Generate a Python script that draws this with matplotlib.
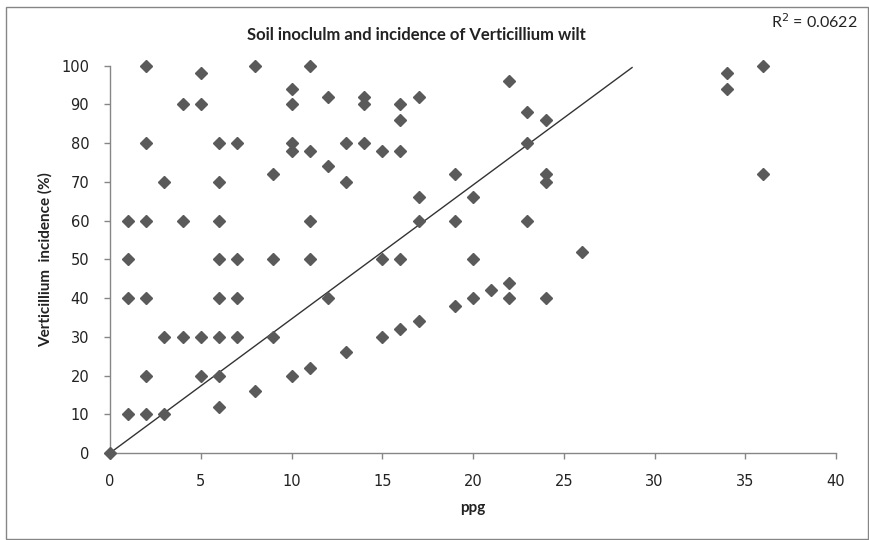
import numpy as np
import matplotlib
matplotlib.use("Agg")
import matplotlib.pyplot as plt
from matplotlib.patches import Rectangle

# ppg values and Verticillium incidence (%)
ppg = [0,
       1, 1, 1, 1,
       2, 2, 2, 2, 2, 2,
       3, 3, 3,
       4, 4, 4,
       5, 5, 5, 5,
       6, 6, 6, 6, 6, 6, 6, 6,
       7, 7, 7, 7,
       8, 8,
       9, 9, 9,
       10, 10, 10, 10, 10,
       11, 11, 11, 11, 11,
       12, 12, 12,
       13, 13, 13,
       14, 14, 14,
       15, 15, 15,
       16, 16, 16, 16, 16,
       17, 17, 17, 17,
       19, 19, 19,
       20, 20, 20,
       21,
       22, 22, 22,
       23, 23, 23,
       24, 24, 24, 24,
       26,
       34, 34,
       36, 36]
incidence = [0,
             60, 50, 40, 10,
             100, 80, 60, 40, 20, 10,
             70, 30, 10,
             90, 60, 30,
             98, 90, 30, 20,
             80, 70, 60, 50, 40, 30, 20, 12,
             80, 50, 40, 30,
             100, 16,
             72, 50, 30,
             94, 90, 80, 78, 20,
             100, 78, 60, 50, 22,
             92, 74, 40,
             80, 70, 26,
             92, 90, 80,
             78, 50, 30,
             90, 86, 78, 50, 32,
             92, 66, 60, 34,
             72, 60, 38,
             66, 50, 40,
             42,
             96, 44, 40,
             88, 80, 60,
             86, 72, 70, 40,
             52,
             98, 94,
             100, 72]

trend_slope = 3.46   # trendline through origin, as drawn
r_squared = 0.0622

x_ticks = [0, 5, 10, 15, 20, 25, 30, 35, 40]
y_ticks = [0, 10, 20, 30, 40, 50, 60, 70, 80, 90, 100]

W, H = 870, 540
fig = plt.figure(figsize=(W / 100, H / 100), dpi=100)
ax = fig.add_axes([110 / W, 1 - 453 / H, (836 - 110) / W, (453 - 65.7) / H])

grey = "#868686"
label_font = "Lato"

# trendline, cut off where it leaves the plot area
xt = np.linspace(0, max(ppg), 200)
yt = trend_slope * xt
keep = yt <= 100
ax.plot(xt[keep], yt[keep], color="#333333", lw=1.0, zorder=2)

ax.plot(ppg, incidence, linestyle="none", marker="D", ms=6.2,
        color="#5a5a5a", mec="#5a5a5a", clip_on=False, zorder=3)

ax.set_xlim(0, 40)
ax.set_ylim(0, 100)
ax.set_xticks(x_ticks)
ax.set_yticks(y_ticks)

for side in ("top", "right"):
    ax.spines[side].set_visible(False)
for side in ("left", "bottom"):
    ax.spines[side].set_color(grey)
    ax.spines[side].set_linewidth(1.0)

ax.tick_params(axis="both", direction="out", length=4, width=1, color=grey,
               labelsize=10.5, labelcolor="#222222")
ax.tick_params(axis="y", pad=11)
ax.tick_params(axis="x", pad=11)

ax.set_xlabel("ppg", fontfamily=label_font, fontweight="bold", fontsize=11,
              color="#222222", labelpad=9)
ax.set_ylabel("Verticillium  incidence (%)", fontfamily=label_font,
              fontweight="bold", fontsize=11, color="#222222", labelpad=6)

fig.text(416 / W, 1 - 35 / H, "Soil inoclulm and incidence of Verticillium wilt",
         ha="center", va="center", fontfamily=label_font, fontweight="bold",
         fontsize=12, color="#222222")
fig.text(858 / W, 1 - 22 / H, "R$^2$ = %.4f" % r_squared, ha="right", va="center",
         fontfamily=label_font, fontsize=11.5, color="#222222")

# outer chart border
fig.patches.append(Rectangle((6 / W, 1 - 539 / H), 862 / W, 532 / H,
                             transform=fig.transFigure, fill=False,
                             edgecolor=grey, lw=1.0))

fig.savefig("out.png", dpi=100)
